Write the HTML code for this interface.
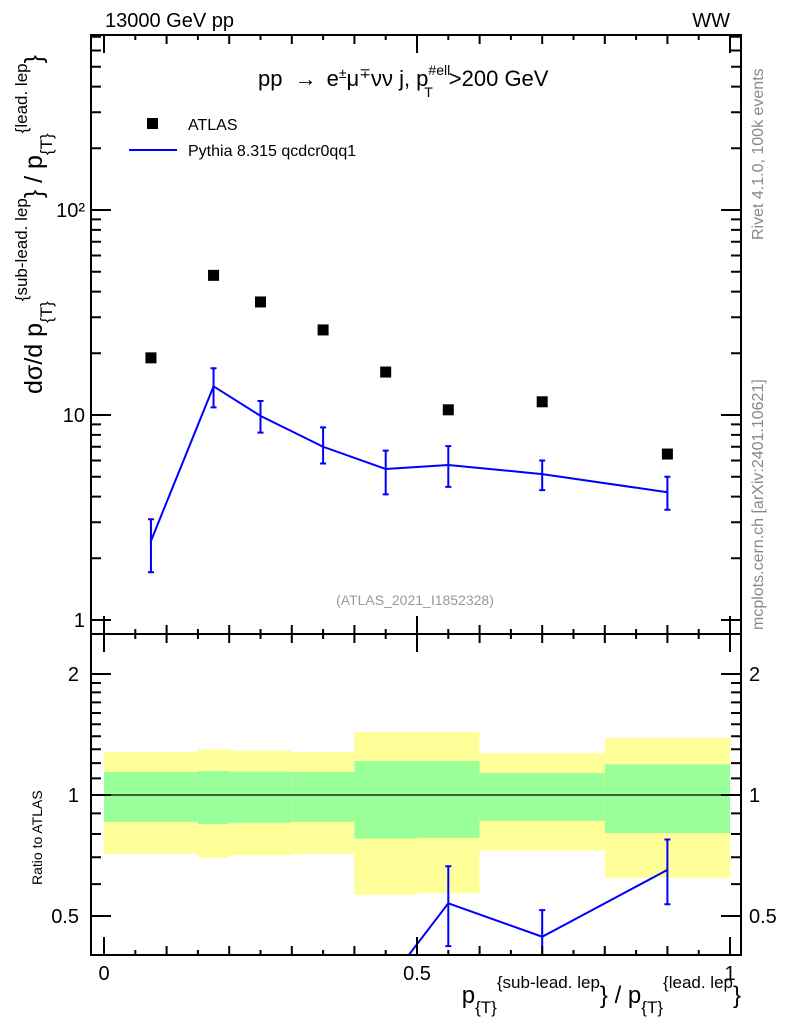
<!DOCTYPE html>
<html><head><meta charset="utf-8"><style>
html,body{margin:0;background:#fff;overflow:hidden;width:786px;height:1024px}
svg{display:block;font-family:"Liberation Sans",sans-serif}
</style></head><body>
<svg id="c" width="786" height="1024" viewBox="0 0 786 1024" xmlns="http://www.w3.org/2000/svg">
<g id="bands"></g>
<g id="marks"></g>
<g id="axes"></g>
<text x="105" y="27" font-size="20">13000 GeV pp</text>
<text x="730" y="27" font-size="20" text-anchor="end">WW</text>
<text x="258" y="86" font-size="22">pp <tspan dx="6">→</tspan><tspan dx="10">e</tspan><tspan font-size="14" dy="-8">±</tspan><tspan dy="8">μ</tspan><tspan font-size="14" dy="-8">∓</tspan><tspan dy="8">νν j, p</tspan><tspan font-size="14" dy="-11">#ell</tspan><tspan font-size="14" dx="-26" dy="22">T</tspan><tspan dx="16" dy="-11">&gt;200 GeV</tspan></text>
<rect x="147" y="118" width="11" height="11" fill="#000"/>
<text x="188" y="130" font-size="16">ATLAS</text>
<line x1="129" y1="150" x2="177" y2="150" stroke="#0000ff" stroke-width="2"/>
<text x="188" y="156" font-size="16">Pythia 8.315 qcdcr0qq1</text>
<text x="415" y="605" font-size="14" fill="#999" text-anchor="middle">(ATLAS_2021_I1852328)</text>
<text transform="translate(763,240) rotate(-90)" font-size="16" fill="#888">Rivet 4.1.0,  100k events</text>
<text transform="translate(763,630) rotate(-90)" font-size="16" fill="#888">mcplots.cern.ch [arXiv:2401.10621]</text>
<text transform="translate(42,394) rotate(-90)" font-size="25">dσ/d p<tspan font-size="17" dy="10">{T}</tspan><tspan font-size="17" dy="-25">{sub-lead. lep</tspan><tspan dy="15">} / p</tspan><tspan font-size="17" dy="10">{T}</tspan><tspan font-size="17" dy="-25">{lead. lep</tspan><tspan dy="15">}</tspan></text>
<text transform="translate(42,885) rotate(-90)" font-size="14">Ratio to ATLAS</text>
<text x="741" y="1003" font-size="24" text-anchor="end">p<tspan font-size="17" dy="10">{T}</tspan><tspan font-size="17" dy="-25">{sub-lead. lep</tspan><tspan dy="15">} / p</tspan><tspan font-size="17" dy="10">{T}</tspan><tspan font-size="17" dy="-25">{lead. lep</tspan><tspan dy="15">}</tspan></text>
</svg>
<script>
const binEdges=[0,0.15,0.2,0.3,0.4,0.5,0.6,0.8,1.0];
const xCenters=[0.075,0.175,0.25,0.35,0.45,0.55,0.7,0.9];
const atlasVals=[19,48,35.6,26,16.2,10.6,11.6,6.45];
const mcVals=[2.43,13.8,9.9,7.0,5.45,5.7,5.15,4.2];
const mcUp=[3.1,16.9,11.7,8.7,6.7,7.05,6.0,5.0];
const mcDn=[1.71,10.9,8.2,5.8,4.1,4.46,4.3,3.45];
const yelUp=[1.279,1.299,1.289,1.279,1.435,1.435,1.27,1.386];
const yelDn=[0.713,0.698,0.708,0.713,0.564,0.57,0.727,0.622];
const grnUp=[1.141,1.147,1.143,1.141,1.215,1.215,1.134,1.192];
const grnDn=[0.857,0.847,0.853,0.857,0.779,0.782,0.863,0.804];
const mainTicks=[1,10,100];
const mainTickLabels=["1","10","10²"];
const ratioTicks=[0.5,1,2];
const ratioTickLabels=["0.5","1","2"];
const xTicks=[0,0.5,1];
const xTickLabels=["0","0.5","1"];

const NS="http://www.w3.org/2000/svg";
const L=91,R=741,T=35,M=634,B=955;
const RMIN=0.4,RMAX=2.52;
const X=v=>104+626*v;
const Y=v=>620-205*Math.log10(v);
const YR=v=>795-121*Math.log2(v);
function mk(parent,tag,attrs){const e=document.createElementNS(NS,tag);for(const k in attrs)e.setAttribute(k,attrs[k]);document.getElementById(parent).appendChild(e);return e;}

for(let i=0;i<atlasVals.length;i++){
  const x0=X(binEdges[i]),x1=X(binEdges[i+1]);
  const yb=mk('bands','rect',{x:x0,y:YR(yelUp[i]),width:x1-x0,height:Math.min(YR(yelDn[i]),B)-YR(yelUp[i]),fill:'#ffff99'});
  
  
  const gb=mk('bands','rect',{x:x0,y:YR(grnUp[i]),width:x1-x0,height:YR(grnDn[i])-YR(grnUp[i]),fill:'#99ff99'});
  
  
}
const one=mk('bands','line',{x1:L,x2:R,y1:YR(1),y2:YR(1),stroke:'#000','stroke-width':1.3});



let pts=xCenters.map((x,i)=>X(x)+','+Y(mcVals[i])).join(' ');
const pl=mk('marks','polyline',{points:pts,fill:'none',stroke:'#0000ff','stroke-width':2});


for(let i=0;i<xCenters.length;i++){
  const x=X(xCenters[i]);
  const eb=mk('marks','path',{d:`M${x},${Y(mcUp[i])}V${Y(mcDn[i])}M${x-3},${Y(mcUp[i])}h6M${x-3},${Y(mcDn[i])}h6`,stroke:'#0000ff','stroke-width':2,fill:'none'});
  
  
  const sq=mk('marks','rect',{x:x-5.5,y:Y(atlasVals[i])-5.5,width:11,height:11,fill:'#000'});
  
  
}
mk('marks','clipPath',{id:'rc'});
mk('rc','rect',{x:L,y:M,width:R-L,height:B-M});
let rpts=xCenters.map((x,i)=>X(x)+','+YR(mcVals[i]/atlasVals[i])).join(' ');
const rl=mk('marks','polyline',{points:rpts,fill:'none',stroke:'#0000ff','stroke-width':2,'clip-path':'url(#rc)'});


for(let i=0;i<xCenters.length;i++){
  const r=mcVals[i]/atlasVals[i];if(r<RMIN||r>RMAX)continue;
  const x=X(xCenters[i]);const u=YR(mcUp[i]/atlasVals[i]),d=YR(mcDn[i]/atlasVals[i]);
  const eb=mk('marks','path',{d:`M${x},${u}V${d}M${x-3},${u}h6M${x-3},${d}h6`,stroke:'#0000ff','stroke-width':2,fill:'none','clip-path':'url(#rc)'});
  
  
}

let d=`M${L},${T}H${R}V${B}H${L}Z M${L},${M}H${R}`;
for(let dec=0;dec<3;dec++)for(let k=1;k<10;k++){
  const v=k*Math.pow(10,dec);const y=Y(v);if(y<T||y>M)continue;
  const len=k==1?20:10;d+=`M${L},${y}h${len}M${R},${y}h${-len}`;
}
[0.4,0.5,0.6,0.7,0.8,0.9,1,1.1,1.2,1.3,1.4,1.5,1.6,1.7,1.8,1.9,2].forEach(v=>{
  const y=YR(v);if(y<M||y>B)return;const len=(v==0.5||v==1||v==2)?20:10;d+=`M${L},${y}h${len}M${R},${y}h${-len}`;
});
for(let k=0;k<=20;k++){const v=k*0.05,x=X(v);const len=(k%10==0)?18:(k%2==0?9:5);
  d+=`M${x},${B}v${-len}M${x},${M}v${len}M${x},${M}v${-len}M${x},${T}v${len}`;}
const ax=mk('axes','path',{d:d,stroke:'#000','stroke-width':2,fill:'none'});


mainTicks.forEach((v,i)=>{
  const t=mk('axes','text',{x:L-6,y:Y(v)+7,'font-size':20,'text-anchor':'end'});t.textContent=mainTickLabels[i];
  
  
});
ratioTicks.forEach((v,i)=>{
  const t=mk('axes','text',{x:L-12,y:YR(v)+7,'font-size':20,'text-anchor':'end'});t.textContent=ratioTickLabels[i];
  
  
  const t2=mk('axes','text',{x:R+8,y:YR(v)+7,'font-size':20});t2.textContent=ratioTickLabels[i];
  
  
});
xTicks.forEach((v,i)=>{
  const t=mk('axes','text',{x:X(v),y:980,'font-size':20,'text-anchor':'middle'});t.textContent=xTickLabels[i];
  
  
});
</script>
</body></html>
